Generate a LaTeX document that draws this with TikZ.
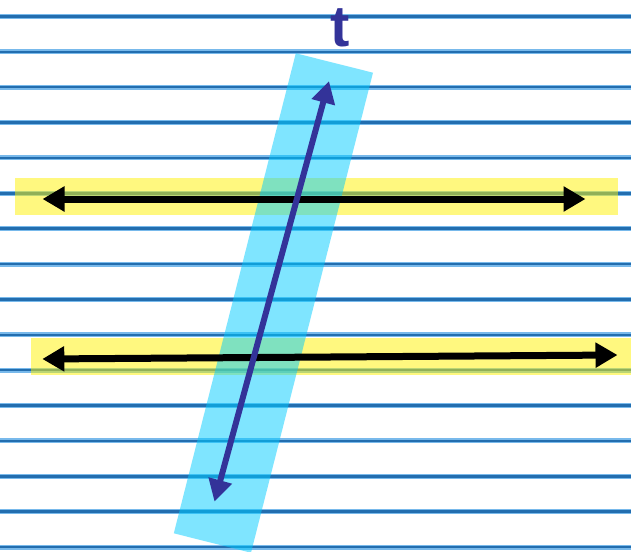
\documentclass[tikz,border=0pt]{standalone}
\usepackage{fontspec}
\setmainfont{Liberation Sans}
\usetikzlibrary{arrows.meta,positioning}
\definecolor{ruleblue}{RGB}{35,110,175}
\definecolor{rulehalo}{RGB}{120,185,235}
\definecolor{tblue}{RGB}{51,51,153}
\definecolor{bandcyan}{RGB}{0,204,255}

\begin{document}
\begin{tikzpicture}[x=1pt,y=-1pt,
  band/.style={fill=yellow,opacity=.5},
  transband/.style={fill=bandcyan,opacity=.5},
  parline/.style={{Triangle[length=22pt,width=24pt]}-{Triangle[length=22pt,width=24pt]},line width=7pt,black},
  transline/.style={{Triangle[length=22pt,width=23pt]}-{Triangle[length=22pt,width=23pt]},line width=6pt,tblue}]
\useasboundingbox (0,0) rectangle (631,551);
\fill[white] (0,0) rectangle (631,551);
% ruled paper
\foreach \k in {0,...,15} {
  \draw[rulehalo,line width=5pt] (0,16.5+35.37*\k) -- (631,16.5+35.37*\k);
  \draw[ruleblue,line width=2.5pt] (0,16.5+35.37*\k) -- (631,16.5+35.37*\k);
}
% highlight bands
\fill[band] (15.3,177.7) rectangle (617.7,215);
\fill[band] (31.4,337.7) rectangle (631,375);
\fill[transband] (295.8,53.3) -- (373,72.7) -- (251,552.7) -- (173.8,533.3) -- cycle;
% lines
\coordinate (p1) at (42.5,199);
\coordinate (p2) at (585.5,199);
\coordinate (q1) at (42.3,359);
\coordinate (q2) at (617.5,355);
\coordinate (t1) at (214.5,501.7);
\coordinate (t2) at (329,81);
\draw[parline] (p1) -- (p2);
\draw[parline] (q1) -- (q2);
\draw[transline] (t1) -- (t2);
\node[anchor=base,text=tblue,font=\bfseries\fontsize{58}{58}\selectfont,inner sep=0pt] (tlab) at (339.7,46.7) {t};
\end{tikzpicture}
\end{document}
